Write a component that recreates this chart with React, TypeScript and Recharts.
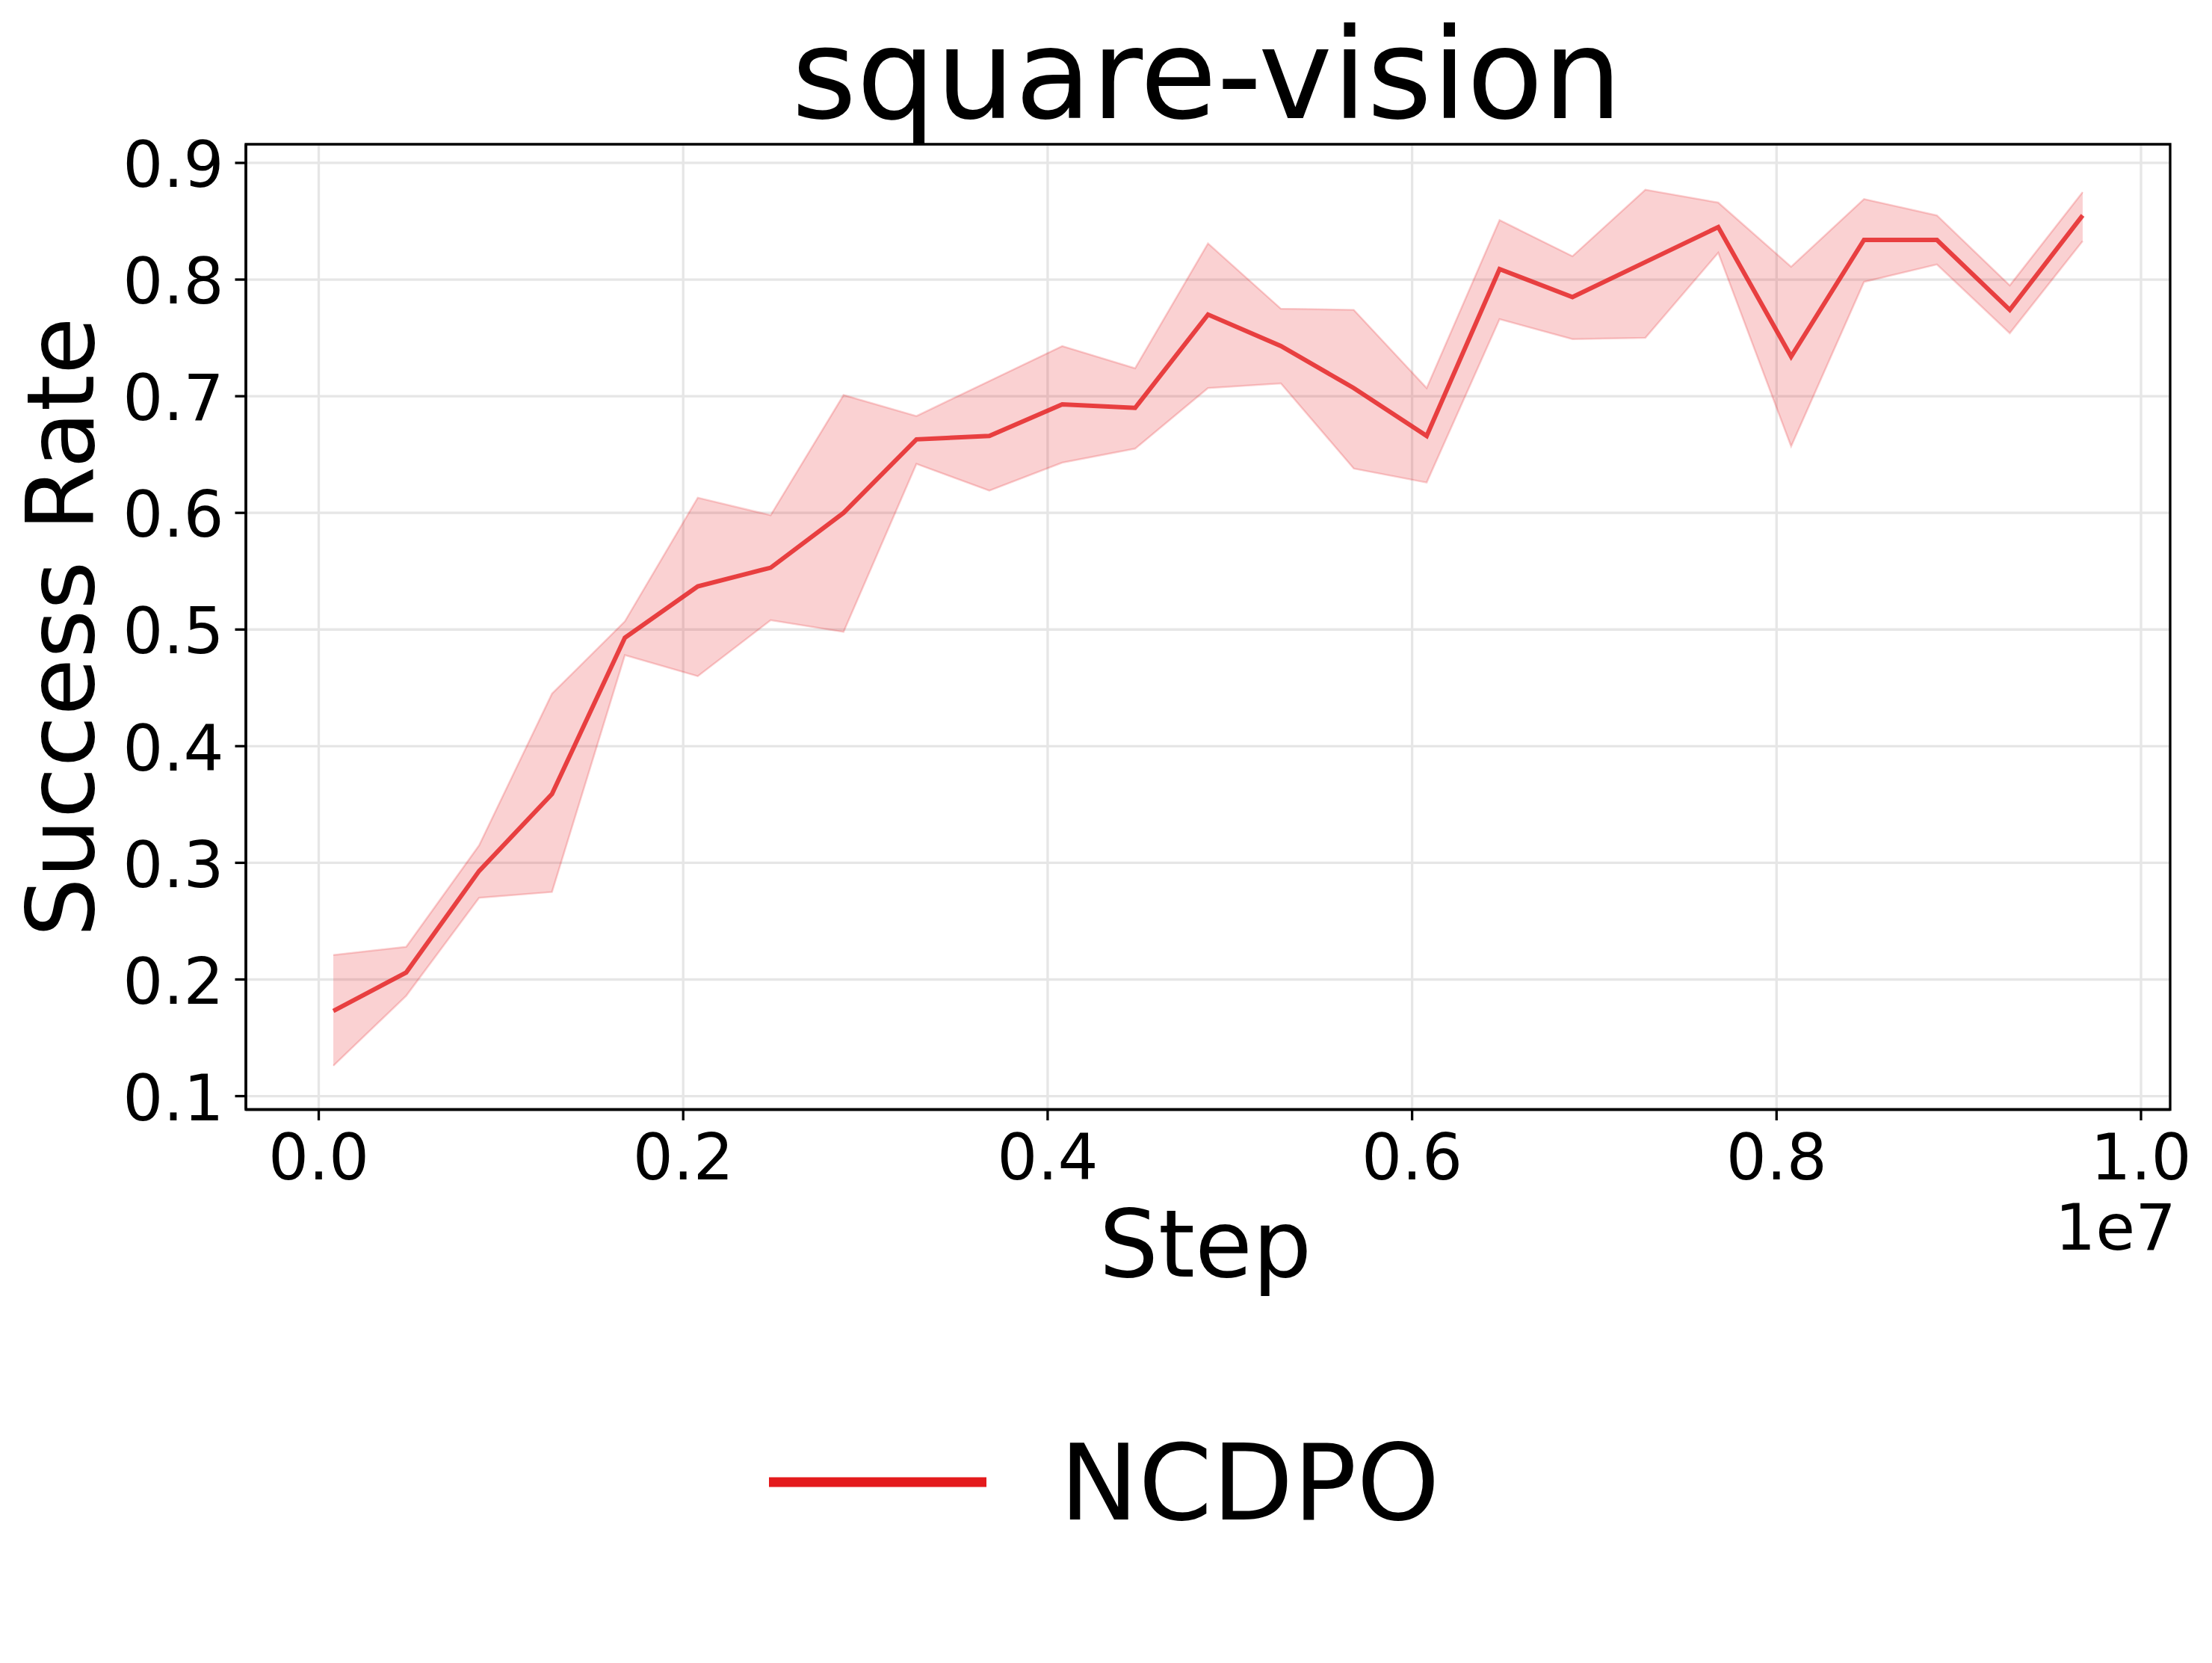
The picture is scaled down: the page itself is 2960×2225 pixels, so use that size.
import React from 'react';
import {
  ComposedChart,
  Area,
  Line,
  XAxis,
  YAxis,
  CartesianGrid,
  Legend,
  ReferenceArea,
} from 'recharts';

const steps = [
  80000, 480000, 880000, 1280000, 1680000, 2080000, 2480000, 2880000, 3280000,
  3680000, 4080000, 4480000, 4880000, 5280000, 5680000, 6080000, 6480000,
  6880000, 7280000, 7680000, 8080000, 8480000, 8880000, 9280000, 9680000,
];

const meanValues = [
  0.173, 0.206, 0.293, 0.359, 0.493, 0.537, 0.553, 0.6, 0.663, 0.666, 0.693,
  0.69, 0.77, 0.743, 0.707, 0.666, 0.809, 0.785, 0.815, 0.845, 0.734, 0.834,
  0.834, 0.774, 0.855,
];

const upperValues = [
  0.221, 0.228, 0.315, 0.445, 0.507, 0.613, 0.598, 0.701, 0.683, 0.713, 0.743,
  0.724, 0.831, 0.775, 0.774, 0.707, 0.851, 0.82, 0.877, 0.866, 0.811, 0.869,
  0.855, 0.795, 0.875,
];

const lowerValues = [
  0.126, 0.186, 0.27, 0.275, 0.478, 0.46, 0.508, 0.498, 0.642, 0.619, 0.643,
  0.655, 0.707, 0.711, 0.638, 0.626, 0.766, 0.749, 0.75, 0.823, 0.657, 0.798,
  0.813, 0.754, 0.833,
];

const xTicks = [0, 2000000, 4000000, 6000000, 8000000, 10000000];
const yTicks = [0.1, 0.2, 0.3, 0.4, 0.5, 0.6, 0.7, 0.8, 0.9];

const seriesName = 'NCDPO';
const chartTitle = 'square-vision';
const xLabel = 'Step';
const yLabel = 'Success Rate';
const xOffsetText = '1e7';

const data = steps.map((s, i) => ({
  step: s,
  mean: meanValues[i],
  band: [lowerValues[i], upperValues[i]],
}));

const FONT = 'DejaVu Sans';
const RED = '#e41a1c';
const X_DOMAIN: [number, number] = [-400000, 10160000];
const Y_DOMAIN: [number, number] = [0.0885, 0.916];

const renderLegend = (props: any) => {
  const items = (props.payload || []).filter((p: any) => p.type !== 'none');
  const item = items[0];
  return (
    <svg width={2960} height={275} style={{ display: 'block' }}>
      <line x1={1029} x2={1320} y1={133} y2={133} stroke={RED} strokeWidth={13} />
      <text x={1418} y={183} fontSize={141} fontFamily={FONT} fill="#000">
        {item ? item.value : seriesName}
      </text>
    </svg>
  );
};

export default function App() {
  return (
    <div
      style={{
        position: 'absolute',
        left: 0,
        top: 0,
        width: 2960,
        height: 2225,
        background: '#fff',
      }}
    >
      <ComposedChart
        width={2960}
        height={2225}
        data={data}
        margin={{ top: 193, right: 56, left: 0, bottom: 100 }}
      >
        <CartesianGrid stroke="#e6e6e6" strokeWidth={3.3} />
        <XAxis
          dataKey="step"
          type="number"
          domain={X_DOMAIN}
          ticks={xTicks}
          allowDataOverflow
          height={365.5}
          tickSize={14.5}
          tickMargin={19}
          tickFormatter={(v: number) => (v / 1e7).toFixed(1)}
          tick={{ fontSize: 85, fill: '#000', fontFamily: FONT }}
          axisLine={{ stroke: '#000', strokeWidth: 3.3 }}
          tickLine={{ stroke: '#000', strokeWidth: 3.3 }}
        />
        <YAxis
          type="number"
          domain={Y_DOMAIN}
          ticks={yTicks}
          allowDataOverflow
          width={329}
          tickSize={14.5}
          tickMargin={15}
          tickFormatter={(v: number) => v.toFixed(1)}
          tick={{ fontSize: 85, fill: '#000', fontFamily: FONT, dy: 2 }}
          axisLine={{ stroke: '#000', strokeWidth: 3.3 }}
          tickLine={{ stroke: '#000', strokeWidth: 3.3 }}
        />
        <Area
          dataKey="band"
          type="linear"
          fill={RED}
          fillOpacity={0.2}
          stroke={RED}
          strokeOpacity={0.2}
          strokeWidth={2.5}
          legendType="none"
          dot={false}
          activeDot={false}
          isAnimationActive={false}
        />
        <Line
          dataKey="mean"
          name={seriesName}
          type="linear"
          stroke={RED}
          strokeOpacity={0.8}
          strokeWidth={6}
          dot={false}
          activeDot={false}
          isAnimationActive={false}
        />
        <ReferenceArea
          x1={X_DOMAIN[0]}
          x2={X_DOMAIN[1]}
          y1={Y_DOMAIN[0]}
          y2={Y_DOMAIN[1]}
          fill="none"
          stroke="#000"
          strokeWidth={3.3}
          ifOverflow="visible"
        />
        <Legend
          verticalAlign="bottom"
          content={renderLegend}
          wrapperStyle={{ left: 0, top: 1850, bottom: 'auto', width: 2960, height: 275 }}
        />
        <text
          x={1615}
          y={158}
          textAnchor="middle"
          fontSize={167}
          fontFamily={FONT}
          fill="#000"
        >
          {chartTitle}
        </text>
        <text
          x={125}
          y={839}
          transform="rotate(-90 125 839)"
          textAnchor="middle"
          fontSize={125}
          fontFamily={FONT}
          fill="#000"
        >
          {yLabel}
        </text>
        <text
          x={1613}
          y={1708}
          textAnchor="middle"
          fontSize={125}
          fontFamily={FONT}
          fill="#000"
        >
          {xLabel}
        </text>
        <text
          x={2912}
          y={1672}
          textAnchor="end"
          fontSize={86}
          fontFamily={FONT}
          fill="#000"
        >
          {xOffsetText}
        </text>
      </ComposedChart>
    </div>
  );
}
